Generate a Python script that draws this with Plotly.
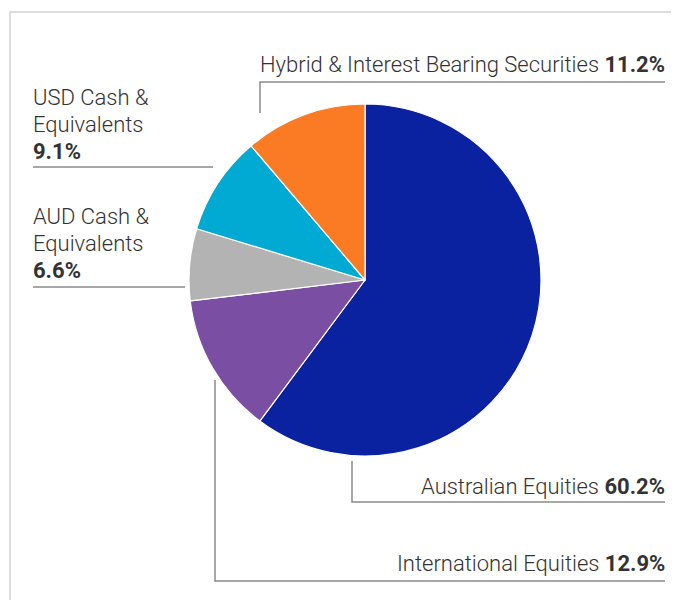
import plotly.graph_objects as go

categories = ["Australian Equities", "International Equities", "AUD Cash & Equivalents",
              "USD Cash & Equivalents", "Hybrid & Interest Bearing Securities"]
values = [60.2, 12.9, 6.6, 9.1, 11.2]
colors = ["#0b22a0", "#7a4ea3", "#b3b3b3", "#00aad3", "#fb7a24"]

# page has an 8px body margin: figure occupies page pixels 8..679 / 8..600
OFF = 8
W, H = 679 - OFF, 608 - 2 * OFF
cx, cy, r = 365, 280, 176

fig = go.Figure()
fig.add_trace(go.Pie(
    labels=categories, values=values, sort=False, direction="clockwise", rotation=0,
    marker=dict(colors=colors, line=dict(color="white", width=1.2)),
    textinfo="none", showlegend=False,
    domain=dict(x=[(cx - r - OFF) / W, (cx + r - OFF) / W],
                y=[1 - (cy + r - OFF) / H, 1 - (cy - r - OFF) / H]),
))

FONT = dict(family="Roboto Light, Roboto, Liberation Sans, Arial, sans-serif", size=22,
            color="#333333", weight=300)
LINE = dict(color="#8a8a8a", width=1.5)

def pct(v):
    return f'<span style="font-family:Roboto;font-weight:bold"><b>{v:.1f}%</b></span>'

shapes = []
def path(pts, line=LINE):
    d = "M " + " L ".join(f"{x},{y}" for x, y in pts)
    shapes.append(dict(type="path", path=d, xref="x", yref="y", line=line))

# card border
path([(10, 600), (10, 12), (679, 12)], dict(color="#dddddd", width=2))

# leader lines
path([(260, 113), (260, 82), (665, 82)])             # Hybrid
path([(33, 167), (213, 167)])                        # USD
path([(33, 287), (185, 287)])                        # AUD
path([(352, 461), (352, 502), (665, 502)])           # Australian
path([(215, 380), (215, 581), (665, 581)])           # International

annotations = [
    dict(x=667, y=64, xanchor="right", text=f"{categories[4]} {pct(values[4])}"),
    dict(x=31, y=97, xanchor="left", text="USD Cash &"),
    dict(x=31, y=124, xanchor="left", text="Equivalents"),
    dict(x=31, y=151, xanchor="left", text=pct(values[3])),
    dict(x=31, y=216, xanchor="left", text="AUD Cash &"),
    dict(x=31, y=243, xanchor="left", text="Equivalents"),
    dict(x=31, y=270, xanchor="left", text=pct(values[2])),
    dict(x=667, y=486, xanchor="right", text=f"{categories[0]} {pct(values[0])}"),
    dict(x=667, y=563, xanchor="right", text=f"{categories[1]} {pct(values[1])}"),
]
for a in annotations:
    a.update(xref="x", yref="y", showarrow=False, font=FONT, yanchor="middle")

fig.update_layout(
    width=W, height=H, margin=dict(l=0, r=0, t=0, b=0),
    paper_bgcolor="white", plot_bgcolor="rgba(0,0,0,0)",
    xaxis=dict(range=[OFF, 679], visible=False, fixedrange=True),
    yaxis=dict(range=[OFF + H, OFF], visible=False, fixedrange=True),
    shapes=shapes, annotations=annotations,
)
fig.write_html("out.html")
